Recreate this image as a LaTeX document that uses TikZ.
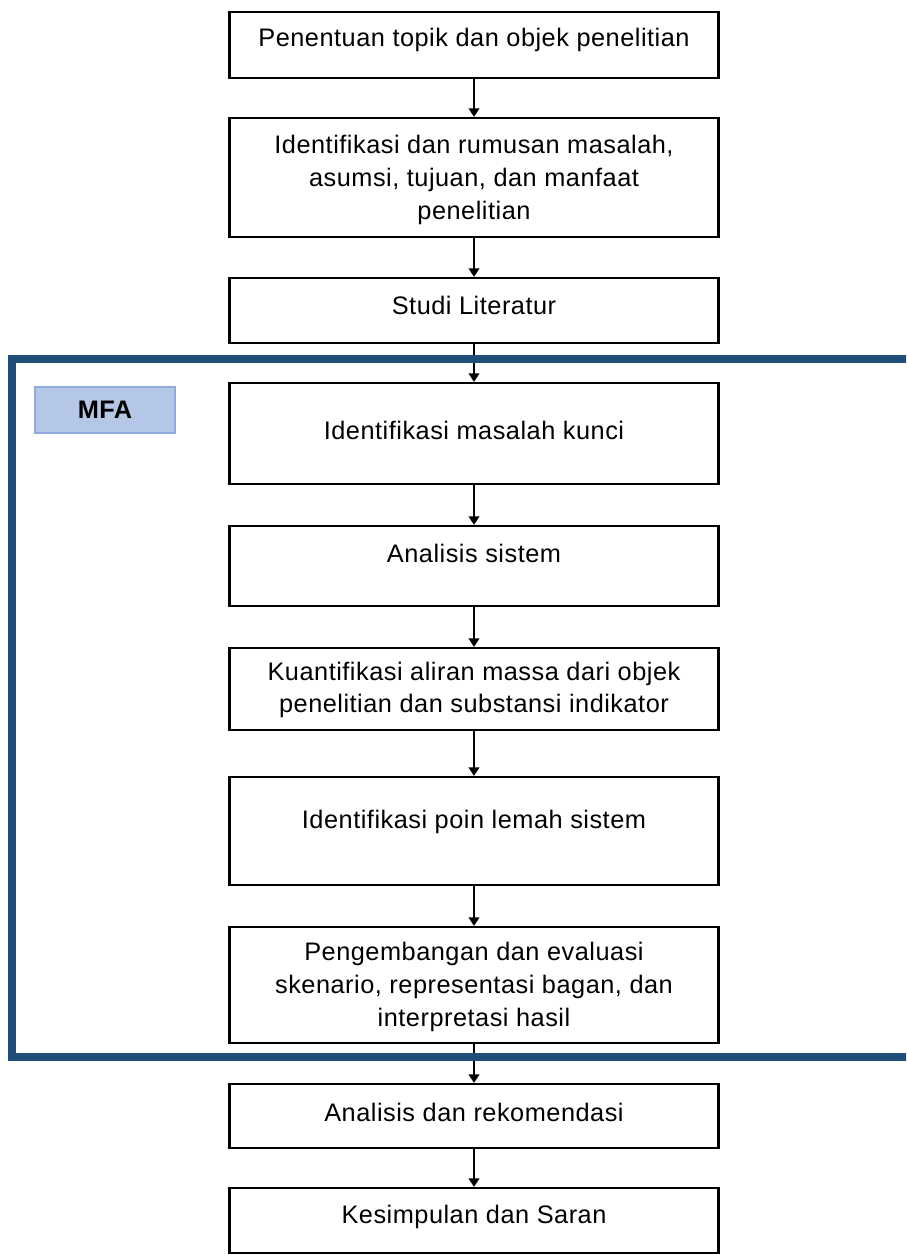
\documentclass[tikz,border=0pt]{standalone}
\usepackage{fontspec}
\setmainfont[LetterSpace=2]{Liberation Sans}
\usetikzlibrary{arrows.meta}
\definecolor{frameblue}{RGB}{31,78,121}
\definecolor{mfafill}{RGB}{180,199,231}
\definecolor{mfaline}{RGB}{143,170,220}
\begin{document}
\begin{tikzpicture}[x=0.75pt,y=-0.75pt,
  stepbox/.style={draw=black, line width=1.6pt, fill=white, minimum width=366.75pt, inner sep=0pt},
  txt/.style={align=center, font=\fontsize{19}{24.5}\selectfont, inner sep=0pt},
  flow/.style={line width=1.5pt, -{Triangle[length=6.5pt,width=8pt]}},
  mfastyle/.style={draw=mfaline, fill=mfafill, line width=1.2pt, minimum width=105pt, minimum height=34.5pt, inner sep=0pt, font=\fontsize{19}{22}\selectfont\bfseries}
]
\useasboundingbox (0,0) rectangle (906,1255);
\clip (0,0) rectangle (906,1255);
\fill[white] (0,0) rectangle (906,1255);

% boxes
\node[stepbox, minimum height=49.5pt] (b1) at (474,45) {};
\node[stepbox, minimum height=89.25pt] (b2) at (474,177.5) {};
\node[stepbox, minimum height=48.75pt] (b3) at (474,310.5) {};
\node[stepbox, minimum height=75.75pt] (b4) at (474,433.5) {};
\node[stepbox, minimum height=60pt] (b5) at (474,566) {};
\node[stepbox, minimum height=61.5pt] (b6) at (474,689) {};
\node[stepbox, minimum height=81pt] (b7) at (474,831) {};
\node[stepbox, minimum height=87pt] (b8) at (474,985) {};
\node[stepbox, minimum height=48pt] (b9) at (474,1116) {};
\node[stepbox, minimum height=48.75pt] (b10) at (474,1220.5) {};

% texts
\node[txt] (t1) at (474,40) {Penentuan topik dan objek penelitian};
\node[txt] (t2) at (474,180) {Identifikasi dan rumusan masalah,\\asumsi, tujuan, dan manfaat\\penelitian};
\node[txt] (t3) at (474,305) {Studi Literatur};
\node[txt] (t4) at (474,430) {Identifikasi masalah kunci};
\node[txt] (t5) at (474,553) {Analisis sistem};
\node[txt] (t6) at (474,690) {Kuantifikasi aliran massa dari objek\\penelitian dan substansi indikator};
\node[txt] (t7) at (474,822) {Identifikasi poin lemah sistem};
\node[txt] (t8) at (474,987) {Pengembangan dan evaluasi\\skenario, representasi bagan, dan\\interpretasi hasil};
\node[txt] (t9) at (474,1112) {Analisis dan rekomendasi};
\node[txt] (t10) at (474,1217) {Kesimpulan dan Saran};

% arrows
\draw[flow] (b1.south) -- (b2.north);
\draw[flow] (b2.south) -- (b3.north);
\draw[flow] (b3.south) -- (b4.north);
\draw[flow] (b4.south) -- (b5.north);
\draw[flow] (b5.south) -- (b6.north);
\draw[flow] (b6.south) -- (b7.north);
\draw[flow] (b7.south) -- (b8.north);
\draw[flow] (b8.south) -- (b9.north);
\draw[flow] (b9.south) -- (b10.north);

% MFA frame
\coordinate (ftr) at (920,359);
\coordinate (ftl) at (12,359);
\coordinate (fbl) at (12,1057);
\coordinate (fbr) at (920,1057);
\draw[frameblue, line width=6pt] (ftr) -- (ftl) -- (fbl) -- (fbr);

\node[mfastyle] (mfa) at (105,410) {MFA};
\end{tikzpicture}
\end{document}
